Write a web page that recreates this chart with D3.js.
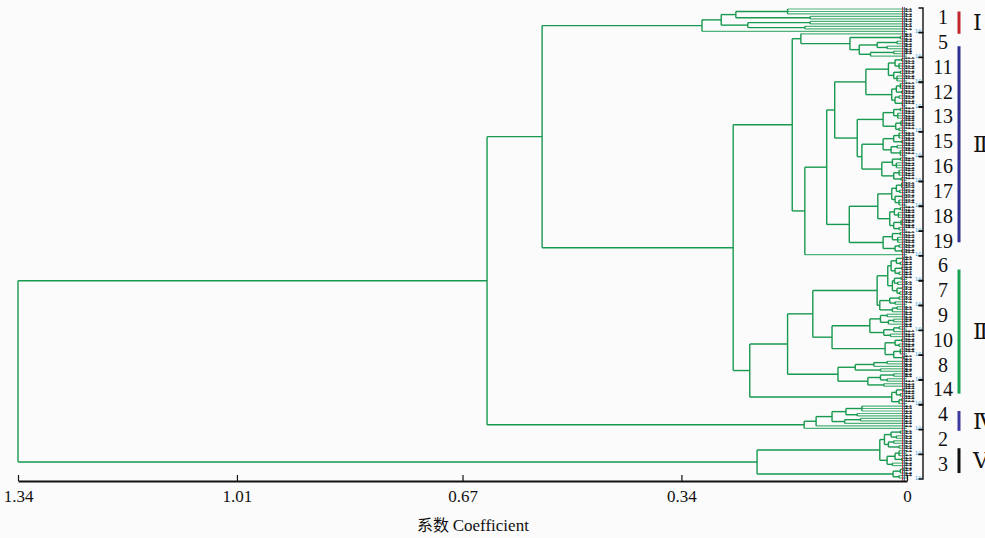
<!DOCTYPE html>
<html>
<head>
<meta charset="utf-8">
<script src="https://cdn.jsdelivr.net/npm/d3@7"></script>
<style>
  body { margin: 0; background: #fbfbfb; }
  svg { display: block; }
</style>
</head>
<body>
<svg id="chart" width="985" height="538"></svg>
<script>
// ---- data ----
let coefTicks = [1.34, 1.01, 0.67, 0.34, 0];
let groupOrder = [1, 5, 11, 12, 13, 15, 16, 17, 18, 19, 6, 7, 9, 10, 8, 14, 4, 2, 3];
let samplesPerGroup = 10;

let romanLabels = ["Ⅰ", "Ⅱ", "Ⅲ", "Ⅳ", "Ⅴ"];
let romanColors = ["#c1272d", "#2e3192", "#1aa152", "#3f3aa0", "#111111"];
let romanFrom = [1, 15, 105, 162, 177];   // leaf rank where each bar starts
let romanTo = [10, 94, 155, 170, 187];

// clusters written as (children)height, "x" = one sample
let clI  = "((((xxx)0.18(xx)0.146)0.258((xx)0.146(xx)0.154)0.24)0.28x)0.309";
let cl5  = "(x((xx)0.01(((xx)0.015(xx)0.03)0.045((xx)0.02x)0.055)0.072)0.086)0.16";
let cl11 = "(((xx)0.008(xxx)0.012)0.018((xx)0.01(xxx)0.015)0.02)0.028";
let cl12 = "(((xxx)0.01(xx)0.008)0.016((xx)0.012(xxx)0.007)0.018)0.023";
let cl13 = "(((xx)0.01(xxx)0.014)0.02((xxx)0.009(xx)0.012)0.017)0.036";
let cl15 = "(((xxx)0.012(xx)0.008)0.02((xx)0.015(xxx)0.01)0.024)0.036";
let cl16 = "(((xx)0.01(xxx)0.016)0.022((xxx)0.012(xx)0.009)0.02)0.038";
let cl17 = "(((xxx)0.008(xx)0.011)0.016((xx)0.007(xxx)0.012)0.018)0.023";
let cl18 = "(((xx)0.01(xxx)0.013)0.019((xxx)0.009(xx)0.012)0.02)0.026";
let cl19 = "(((xx)0.01(xxx)0.014)0.022((xx)0.012(xx)0.008)0.018)0.036";
let cl67a = "((((xx)0.006(xx)0.01)0.016((xx)0.008(xx)0.012)0.018)0.024(((xx)0.009(xx)0.014)0.019((xx)0.007(xx)0.011)0.015)0.022)0.029";
let cl67b = "(((xx)0.012(xx)0.018)0.026((xx)0.015x)0.022)0.041";
let cl9  = "(((xx)0.03((xx)0.02x)0.028)0.04(((xx)0.012x)0.02(xx)0.025)0.035)0.056";
let cl10 = "(((xx)0.008(xx)0.012)0.018((xxx)0.01(xx)0.006)0.02)0.033";
let cl8  = "((((xx)0.03x)0.05(xx)0.04)0.078(((xx)0.02(xx)0.03)0.04(xx)0.035)0.059)0.104";
let cl14 = "(((xx)0.006(xx)0.01)0.016((xx)0.008x)0.012)0.023";
let clIV = "(((((xxx)0.068(xx)0.075)0.092((xx)0.07x)0.094)0.113x)0.137x)0.155";
let clV1 = "((((xx)0.01(xx)0.016)0.024((xx)0.02(xx)0.012)0.028)0.034(((xxx)0.012(xx)0.008)0.018(xx)0.022)0.03)0.041";
let clV2 = "(((xx)0.006x)0.01(xx)0.012)0.021";

// upper joins
let g1a = `(${cl11}${cl12})0.062`;
let g1b = `(${cl13}(${cl15}${cl16})0.068)0.075`;
let g2  = `((${cl17}${cl18})0.044${cl19})0.087`;
let fII = `(((${g1a}${g1b})0.109${g2})0.121x)0.154`;
let dII = `(${cl5}${fII})0.173`;
let cIII = `((((${cl67a}${cl67b})0.045(${cl9}${cl10})0.113)0.142${cl8})0.18${cl14})0.237`;
let treeSrc = `(((${clI}(${dII}${cIII})0.262)0.55${clIV})0.633(${clV1}${clV2})0.226)1.34`;

// ---- parse ----
let parseTree = function(src) {
  let s = src.replace(/\s+/g, "");
  let i = 0;
  let read = function() {
    if (s[i] === "x") { i++; return {h: 0}; }
    i++; // "("
    let children = [];
    while (i < s.length && s[i] !== ")") children.push(read());
    i++;
    let m = s.slice(i).match(/^[0-9.]+/);
    i += m ? m[0].length : 0;
    return {h: m ? +m[0] : 0, children: children};
  };
  return read();
};

let svg = d3.select("#chart");

let root = d3.hierarchy(parseTree(treeSrc));
let leaves = root.leaves();
leaves.forEach((d, i) => d.idx = i);

let x = d3.scaleLinear().domain([1.34, 0]).range([18, 907]);
let y = d3.scaleLinear().domain([0, leaves.length - 1]).range([9, 478]);

// leaf rows evenly spaced, parents sit midway between first and last child
root.eachAfter(d => {
  d.py = d.children
    ? (d.children[0].py + d.children[d.children.length - 1].py) / 2
    : y(d.idx);
});

let plot = svg.append("g").attr("id", "dendro");

// horizontal branches
plot.selectAll("path.h")
  .data(root.descendants().filter(d => d.parent))
  .join("path")
    .attr("class", "h")
    .attr("d", d => `M${x(d.parent.data.h)},${d.py}H${x(d.data.h)}`)
    .attr("fill", "none")
    .attr("stroke", d => d.children ? "#17994f" : "#4fb27a")
    .attr("stroke-width", d => d.children ? 1.4 : 1.2);

// vertical joins
plot.selectAll("path.v")
  .data(root.descendants().filter(d => d.children))
  .join("path")
    .attr("class", "v")
    .attr("d", d => `M${x(d.data.h)},${d.children[0].py}V${d.children[d.children.length - 1].py}`)
    .attr("fill", "none")
    .attr("stroke", "#17994f")
    .attr("stroke-width", 1.4);

// leaf label column (labels are tiny and illegible in the figure too)
let labels = svg.append("g").attr("id", "leaf-labels");
labels.append("line")
  .attr("x1", 902.5).attr("x2", 902.5)
  .attr("y1", y(0) - 2).attr("y2", y(leaves.length - 1) + 3)
  .attr("stroke", "#c1272d").attr("stroke-width", 0.9);
labels.append("line")
  .attr("x1", 904.3).attr("x2", 904.3)
  .attr("y1", y(0) - 2).attr("y2", y(leaves.length - 1) + 3)
  .attr("stroke", "#2e3192").attr("stroke-width", 0.9);

let isLast = d => d.idx % samplesPerGroup === samplesPerGroup - 1;

labels.selectAll("text.leaf")
  .data(leaves.filter(d => !isLast(d)))
  .join("text")
    .attr("class", "leaf")
    .attr("transform", d => `translate(905.2,${d.py + 0.8}) scale(1.8,1)`)
    .attr("font-family", "DejaVu Sans")
    .attr("font-size", 2.05)
    .attr("font-weight", "bold")
    .attr("fill", "#111")
    .attr("stroke", "#111")
    .attr("stroke-width", 0.22)
    .text(d => {
      let g = groupOrder[Math.floor(d.idx / samplesPerGroup)];
      return g + "-" + (d.idx % samplesPerGroup + 1);
    });

labels.selectAll("text.ten")
  .data(leaves.filter(isLast))
  .join("text")
    .attr("class", "ten")
    .attr("x", 915)
    .attr("y", d => d.py + 1.8)
    .attr("font-family", "DejaVu Sans")
    .attr("font-size", 5)
    .attr("fill", "#2f9fd8")
    .text("10");

// group brackets and numbers
let groups = svg.append("g").attr("id", "groups");
groups.selectAll("path")
  .data(groupOrder)
  .join("path")
    .attr("d", (g, i) => {
      let y0 = y(i * samplesPerGroup) - 1;
      let y1 = y(i * samplesPerGroup + samplesPerGroup - 1) + 1;
      return `M918.5,${y0}H923V${y1}H918.5`;
    })
    .attr("fill", "none")
    .attr("stroke", "#111")
    .attr("stroke-width", 1.4);

groups.selectAll("text")
  .data(groupOrder)
  .join("text")
    .attr("x", 943)
    .attr("y", (g, i) => y(i * samplesPerGroup + 4.5) - 3)
    .attr("dy", "0.35em")
    .attr("text-anchor", "middle")
    .attr("font-family", "'Liberation Serif', serif")
    .attr("font-size", 20)
    .attr("fill", "#111")
    .text(g => g);

// roman cluster bars
let roman = svg.append("g").attr("id", "roman");
roman.selectAll("line")
  .data(romanLabels)
  .join("line")
    .attr("x1", 959).attr("x2", 959)
    .attr("y1", (r, i) => y(romanFrom[i]))
    .attr("y2", (r, i) => y(romanTo[i]))
    .attr("stroke", (r, i) => romanColors[i])
    .attr("stroke-width", 3);

roman.selectAll("text")
  .data(romanLabels)
  .join("text")
    .attr("x", 973)
    .attr("y", (r, i) => (y(romanFrom[i]) + y(romanTo[i])) / 2)
    .attr("dy", "0.35em")
    .attr("font-family", "'Liberation Serif', 'DejaVu Serif', serif")
    .attr("font-size", 22)
    .attr("fill", "#111")
    .text(r => r);

// axis
let xAxis = d3.axisBottom(x)
  .tickValues(coefTicks)
  .tickFormat(d => d === 0 ? "0" : d.toFixed(2))
  .tickSizeInner(-6)
  .tickSizeOuter(0)
  .tickPadding(9);

let xGroup = svg.append("g").attr("id", "x-axis")
  .attr("transform", "translate(0,481)")
  .call(xAxis);
xGroup.select(".domain").attr("stroke", "#111").attr("stroke-width", 2);
xGroup.selectAll(".tick line").attr("stroke", "#111").attr("stroke-width", 1.2);
xGroup.selectAll(".tick text")
  .attr("font-family", "'Liberation Serif', serif")
  .attr("font-size", 17)
  .attr("fill", "#111");

let title = svg.append("text")
  .attr("x", 473)
  .attr("y", 531)
  .attr("text-anchor", "middle")
  .attr("font-size", 17)
  .attr("fill", "#111");
title.append("tspan")
  .attr("font-family", "'Noto Sans CJK SC', sans-serif")
  .attr("font-size", 16)
  .text("系数 ");
title.append("tspan")
  .attr("font-family", "'Liberation Serif', serif")
  .text("Coefficient");
</script>
</body>
</html>
